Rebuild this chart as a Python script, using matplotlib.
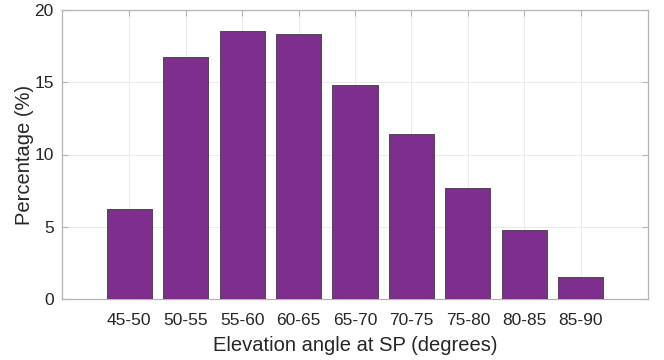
import matplotlib

matplotlib.use("Agg")
import matplotlib.pyplot as plt
import numpy as np

# Share of observations per elevation-angle bin at the specular point
bins = ["45-50", "50-55", "55-60", "60-65", "65-70", "70-75", "75-80", "80-85", "85-90"]
percent = [6.23, 16.72, 18.57, 18.32, 14.79, 11.44, 7.70, 4.75, 1.52]
yticks = [0, 5, 10, 15, 20]

plt.rcParams["font.family"] = ["Liberation Sans", "DejaVu Sans"]

fig = plt.figure(figsize=(6.64, 3.6), dpi=100)
ax = fig.add_axes([62 / 664, 1 - 299 / 360, (648 - 62) / 664, (299 - 10) / 360])

x = np.arange(len(bins))
ax.bar(x, percent, width=0.8, color="#7E2F8E", edgecolor="#3a3a3a", linewidth=0.6, zorder=3)

ax.set_xlim(-1.19, len(bins) - 1 + 1.19)
ax.set_ylim(0, 20)
ax.set_xticks(x)
ax.set_xticklabels(bins)
ax.set_yticks(yticks)

axis_grey = "#b4b4b4"
for s in ax.spines.values():
    s.set_color(axis_grey)
    s.set_linewidth(0.9)
ax.tick_params(direction="in", length=4, color=axis_grey, top=True, right=True,
               labelsize=12.5, labelcolor="#262626")
ax.tick_params(axis="x", pad=10)
ax.tick_params(axis="y", pad=6)
ax.grid(True, color="#ebebeb", linewidth=0.7, zorder=0)
ax.set_axisbelow(True)

ax.set_xlabel("Elevation angle at SP (degrees)", fontsize=14.5, color="#262626", labelpad=6)
ax.set_ylabel("Percentage (%)", fontsize=14.5, color="#262626", labelpad=0)

fig.savefig("out.png", dpi=100)
